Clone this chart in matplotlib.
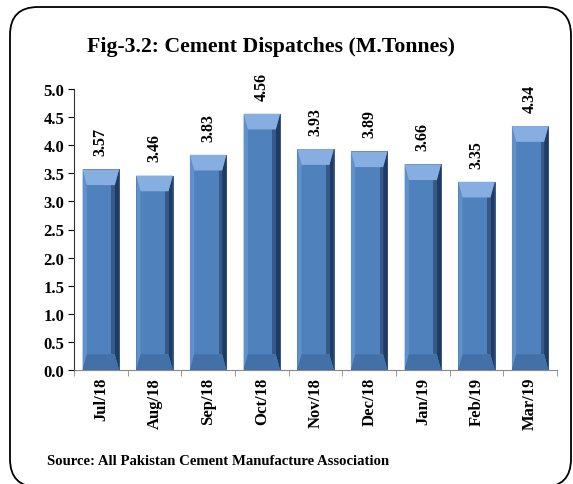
import numpy as np
import matplotlib.pyplot as plt
from matplotlib.patches import FancyBboxPatch, Polygon
from matplotlib.transforms import IdentityTransform

months = ["Jul/18", "Aug/18", "Sep/18", "Oct/18", "Nov/18", "Dec/18", "Jan/19", "Feb/19", "Mar/19"]
dispatches = [3.57, 3.46, 3.83, 4.56, 3.93, 3.89, 3.66, 3.35, 4.34]

plt.rcParams['font.family'] = ['Liberation Serif', 'DejaVu Serif']
plt.rcParams['font.weight'] = 'bold'

W, H = 573, 485
fig = plt.figure(figsize=[W / 100, H / 100], dpi=100)

# rounded frame around the whole chart (pixel coords, y from bottom)
frame = FancyBboxPatch((10, -3), 561, H - 8 + 3,
                       boxstyle="round,pad=0,rounding_size=28",
                       transform=IdentityTransform(), facecolor='none',
                       edgecolor='black', linewidth=1.3, clip_on=False, zorder=-1)
fig.patches.append(frame)

ax = fig.add_axes([74 / W, 1 - 371 / H, 483 / W, 281 / H])
x = np.arange(len(months))
bw = 0.68

ax.bar(x, dispatches, width=bw, color='#4f81bd', edgecolor='#2a4a75', linewidth=0.6, zorder=2)
# bevel shading
for xi, v in zip(x, dispatches):
    l, r = xi - bw / 2, xi + bw / 2
    b = 0.08
    d = 0.28
    ax.add_patch(Polygon([(r, 0), (r, v), (r - b, v - d), (r - b, d)], closed=True,
                         facecolor='#1f3b63', edgecolor='none', zorder=3))
    ax.add_patch(Polygon([(r - b, d), (r - b, v - d), (r - 1.8 * b, v - d), (r - 1.8 * b, d)], closed=True,
                         facecolor='#36598a', edgecolor='none', zorder=3))
    ax.add_patch(Polygon([(l, 0), (l, v), (l + b, v - d), (l + b, d)], closed=True,
                         facecolor='#5f91cd', edgecolor='none', zorder=3))
    ax.add_patch(Polygon([(l, v), (r, v), (r - b, v - d), (l + b, v - d)], closed=True,
                         facecolor='#86aee0', edgecolor='none', zorder=3))
    ax.add_patch(Polygon([(l, 0), (r, 0), (r - b, d), (l + b, d)], closed=True,
                         facecolor='#4470a8', edgecolor='none', zorder=3))
    ax.text(xi, v + 0.25, f"{v:.2f}", rotation=90, ha='center', va='bottom',
            fontsize=11.5, fontweight='bold')

ax.set_xlim(-0.5, len(months) - 0.5)
ax.set_ylim(0, 5.0)
ax.set_yticks(np.arange(0, 5.01, 0.5))
ax.set_yticklabels([f"{t:.1f}" for t in np.arange(0, 5.01, 0.5)], fontsize=12, fontweight='bold')
ax.set_xticks(x)
ax.set_xticklabels(months, rotation=90, fontsize=12, fontweight='bold')
ax.tick_params(axis='x', length=0, pad=5)
ax.set_xticks(np.arange(-0.5, len(months)), minor=True)
ax.tick_params(axis='x', which='minor', length=4, color='#888888', direction='out')
ax.tick_params(axis='y', length=4, width=0.8, pad=3)

for s in ['top', 'right']:
    ax.spines[s].set_visible(False)
ax.spines['bottom'].set_color('#888888')
ax.spines['left'].set_color('#333333')

fig.text(271 / W, 1 - 47 / H, "Fig-3.2: Cement Dispatches (M.Tonnes)", ha='center', va='center',
         fontsize=15.7, fontweight='bold')
fig.text(47 / W, 1 - 462 / H, "Source: All Pakistan Cement Manufacture Association",
         ha='left', va='center', fontsize=10.6, fontweight='bold')

fig.savefig("out.png", dpi=100)
